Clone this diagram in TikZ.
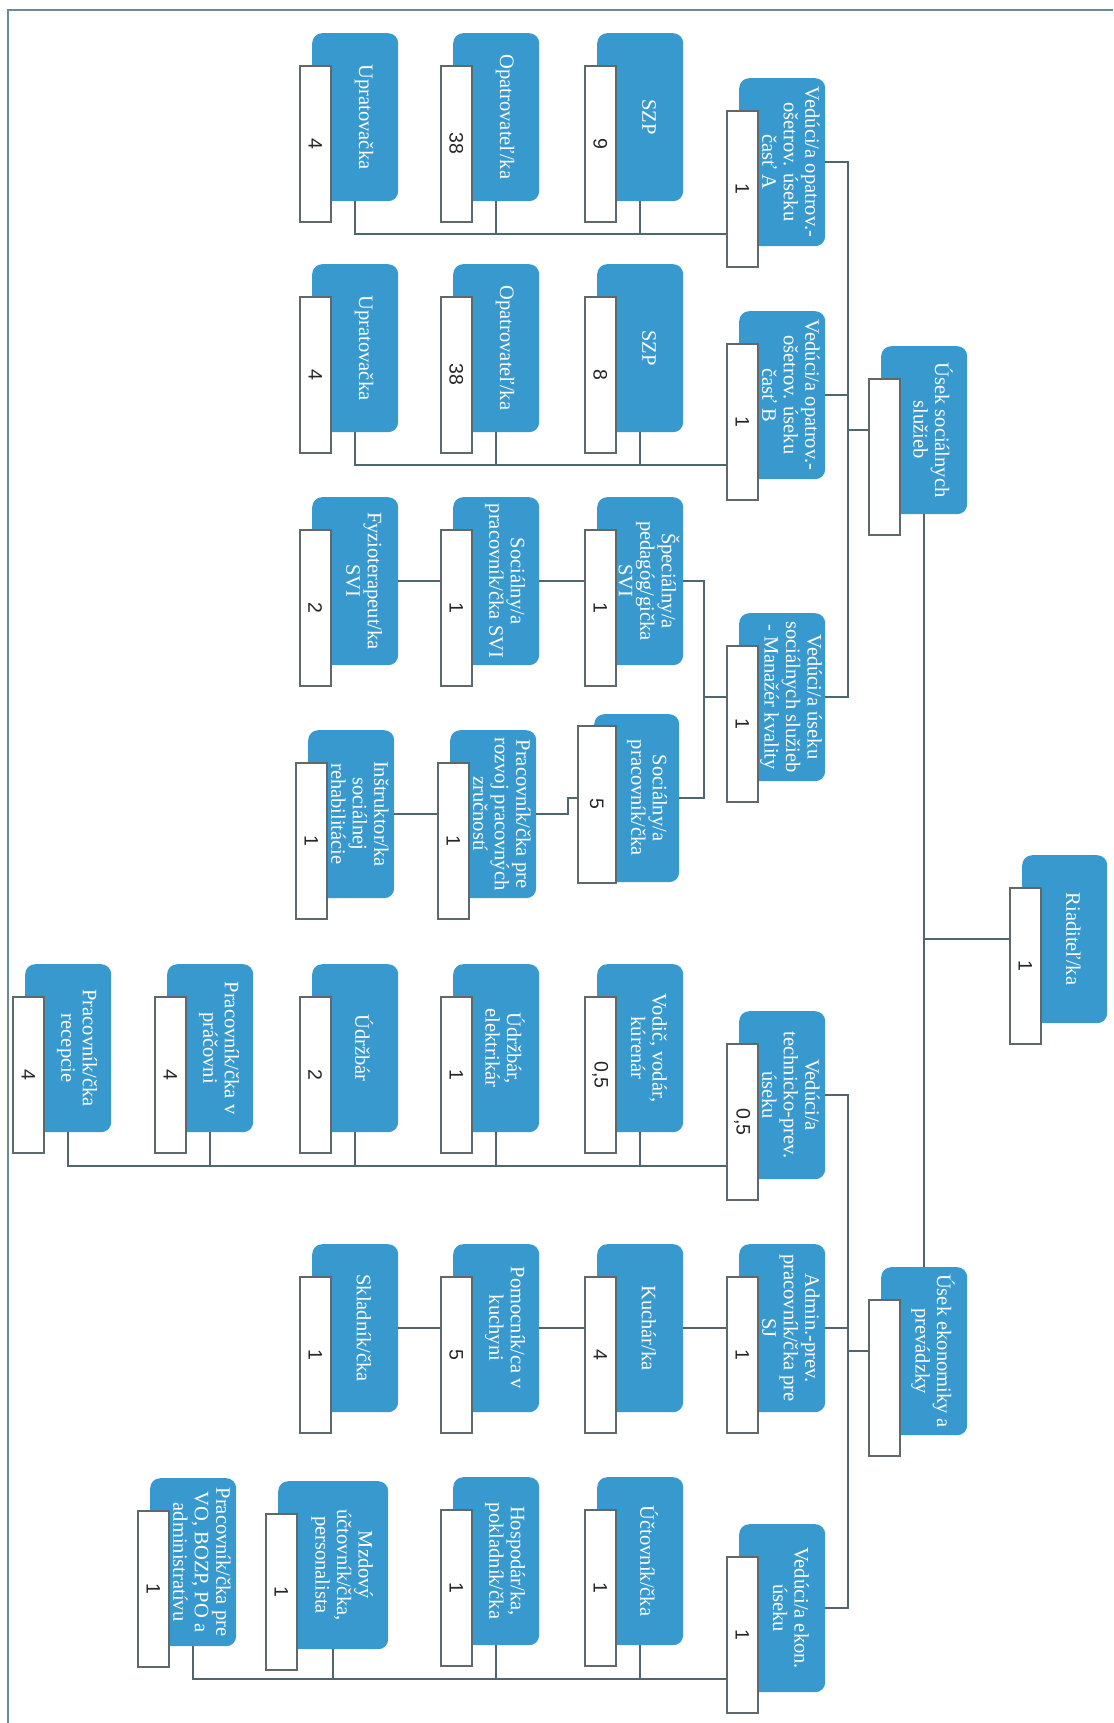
\documentclass[tikz,border=0pt]{standalone}
\usepackage{fontspec}
\setmainfont{Liberation Serif}
\newfontfamily\numfont{Liberation Sans}
\definecolor{boxblue}{RGB}{56,153,207}
\definecolor{linec}{RGB}{78,102,108}
\definecolor{framec}{RGB}{105,140,148}
\definecolor{wedge}{RGB}{95,105,108}
\tikzset{
  bluebox/.style={fill=boxblue, rounded corners=10pt, minimum height=168pt, inner sep=0pt, anchor=north west},
  whitebox/.style={fill=white, draw=wedge, line width=1.6pt, minimum width=31pt, minimum height=156pt, inner sep=0pt, anchor=north west},
  boxtxt/.style={text=white, font=\fontsize{20.5}{21.5}\selectfont, align=center, rotate=-90, inner sep=0pt},
  numtxt/.style={text=black!85, font=\numfont\fontsize{19.5}{20}\selectfont, rotate=-90, inner sep=0pt},
  conn/.style={draw=linec, line width=2pt},
}
\newcommand{\obox}[6][86]{%
  \node[bluebox, minimum width=#1pt] (#2) at (#3,#4) {};
  \node[whitebox] (#2W) at ({#3-13},{#4+32}) {};
  \node[boxtxt] at ({#3+(18+#1)/2},{#4+84}) {#5};
  \node[numtxt] at (#2W.center) {#6};
}
\begin{document}
\begin{tikzpicture}[x=1pt,y=-1pt]
\useasboundingbox (0,0) rectangle (1113,1723);
\fill[white] (0,0) rectangle (1113,1723);
\draw[framec, line width=1.5pt] (8,1723) -- (8,10) -- (1113,10);
% root and departments
\obox[85]{root}{1022}{855}{Riaditeľ/ka}{1}
\obox{dS}{881}{346}{Úsek sociálnych\\služieb}{}
\obox{dE}{881}{1267}{Úsek ekonomiky a\\prevádzky}{}
% level 2
\obox{LA}{739}{78}{Vedúci/a opatrov.-\\ošetrov. úseku\\časť A}{1}
\obox{LB}{739}{311}{Vedúci/a opatrov.-\\ošetrov. úseku\\časť B}{1}
\obox{LS}{739}{613}{Vedúci/a úseku\\sociálnych služieb\\- Manažér kvality}{1}
\obox{LT}{739}{1011}{Vedúci/a\\technicko-prev.\\úseku}{0,5}
\obox{LD}{739}{1244}{Admin.-prev.\\pracovník/čka pre\\SJ}{1}
\obox{LE}{739}{1524}{Vedúci/a ekon.\\úseku}{1}
% A row
\obox{A1}{597}{33}{SZP}{9}
\obox{A2}{453}{33}{Opatrovateľ/ka}{38}
\obox{A3}{312}{33}{Upratovačka}{4}
% B row
\obox{B1}{597}{264}{SZP}{8}
\obox{B2}{453}{264}{Opatrovateľ/ka}{38}
\obox{B3}{312}{264}{Upratovačka}{4}
% SVI row
\obox{S1}{597}{497}{Špeciálny/a\\pedagóg/gička\\SVI}{1}
\obox{S2}{453}{497}{Sociálny/a\\pracovník/čka SVI}{1}
\obox{S3}{312}{497}{Fyzioterapeut/ka\\SVI}{2}
% social workers row
\node[bluebox, minimum width=85pt] (P5) at (594,714) {};
\node[whitebox, minimum width=38pt, minimum height=157pt] (P5W) at (577,725) {};
\node[boxtxt] at (647,798) {Sociálny/a\\pracovník/čka};
\node[numtxt] at (P5W.center) {5};
\obox{R2}{450}{730}{Pracovník/čka pre\\rozvoj pracovných\\zručností}{1}
\obox{R3}{308}{730}{Inštruktor/ka\\sociálnej\\rehabilitácie}{1}
% technical row
\obox{T1}{597}{964}{Vodič, vodár,\\kúrenár}{0,5}
\obox{T2}{453}{964}{Údržbár,\\elektrikár}{1}
\obox{T3}{312}{964}{Údržbár}{2}
\obox{T4}{167}{964}{Pracovník/čka v\\práčovni}{4}
\obox{T5}{25}{964}{Pracovník/čka\\recepcie}{4}
% kitchen row
\obox{K1}{597}{1244}{Kuchár/ka}{4}
\obox{K2}{453}{1244}{Pomocník/ca v\\kuchyni}{5}
\obox{K3}{312}{1244}{Skladník/čka}{1}
% economic row
\obox{E1}{597}{1477}{Účtovník/čka}{1}
\obox{E2}{453}{1477}{Hospodár/ka,\\pokladník/čka}{1}
\obox[110]{E3}{278}{1481}{Mzdový\\účtovník/čka,\\personalista}{1}
\obox{E4}{150}{1478}{Pracovník/čka pre\\VO, BOZP, PO a\\administratívu}{1}
% connectors
\coordinate (tS) at (848,0);
\coordinate (jx) at (704,0);
\coordinate (busA) at (0,234);
\coordinate (busB) at (0,465);
\coordinate (busT) at (0,1166);
\coordinate (busE) at (0,1679);
\draw[conn] (rootW.west |- root.center) -- (root.center -| dS.south);
\draw[conn] (dS.south) -- (dE.north);
\draw[conn] (dS.center -| dSW.west) -- (dS.center -| tS);
\draw[conn] (LA.east) -- (LA.east -| tS) -- (LS.east -| tS) -- (LS.east);
\draw[conn] (LB.east) -- (LB.east -| tS);
\draw[conn] (dE.center -| dEW.west) -- (dE.center -| tS);
\draw[conn] (LT.east) -- (LT.east -| tS) -- (LE.east -| tS) -- (LE.east);
\draw[conn] (LD.east) -- (LD.east -| tS);
% A bus
\draw[conn] (LAW.west |- busA) -- (A3.south |- busA) -- (A3.south);
\draw[conn] (A1.south) -- (A1.south |- busA);
\draw[conn] (A2.south) -- (A2.south |- busA);
% B bus
\draw[conn] (LBW.west |- busB) -- (B3.south |- busB) -- (B3.south);
\draw[conn] (B1.south) -- (B1.south |- busB);
\draw[conn] (B2.south) -- (B2.south |- busB);
% social
\draw[conn] (LS.center -| LSW.west) -- (LS.center -| jx);
\draw[conn] (S1.east) -- (S1.east -| jx) -- (P5.east -| jx) -- (P5.east);
\draw[conn] (S1.center -| S1W.west) -- (S2.east);
\draw[conn] (S2.center -| S2W.west) -- (S3.east);
\draw[conn] (P5.center -| P5W.west) -- ++(-9,0) |- (R2.east);
\draw[conn] (R2.center -| R2W.west) -- (R3.east);
% technical bus
\draw[conn] (LTW.west |- busT) -- (T5.south |- busT) -- (T5.south);
\draw[conn] (T1.south) -- (T1.south |- busT);
\draw[conn] (T2.south) -- (T2.south |- busT);
\draw[conn] (T3.south) -- (T3.south |- busT);
\draw[conn] (T4.south) -- (T4.south |- busT);
% kitchen chain
\draw[conn] (LD.center -| LDW.west) -- (K1.east);
\draw[conn] (K1.center -| K1W.west) -- (K2.east);
\draw[conn] (K2.center -| K2W.west) -- (K3.east);
% economic bus
\draw[conn] (LEW.west |- busE) -- (E4.south |- busE) -- (E4.south);
\draw[conn] (E1.south) -- (E1.south |- busE);
\draw[conn] (E2.south) -- (E2.south |- busE);
\draw[conn] (E3.south) -- (E3.south |- busE);
\end{tikzpicture}
\end{document}
